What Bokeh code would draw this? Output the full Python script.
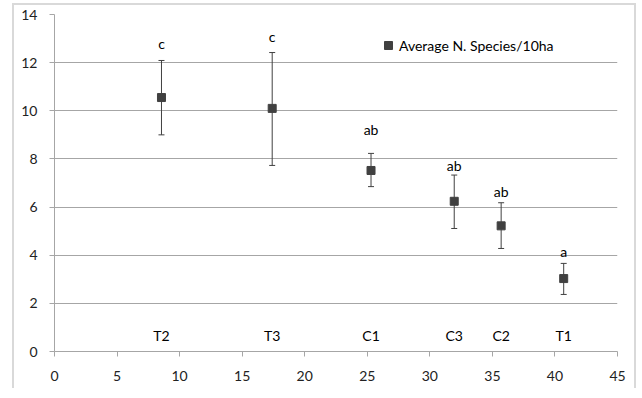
from bokeh.plotting import figure
from bokeh.models import ColumnDataSource, Range1d, FixedTicker, Whisker, Legend, LegendItem
from bokeh.core.properties import value
from bokeh.embed import file_html
from bokeh.resources import INLINE

# Data
sites = ["T2", "T3", "C1", "C3", "C2", "T1"]
x_pos = [8.55, 17.4, 25.3, 31.95, 35.7, 40.7]
avg_species = [10.55, 10.1, 7.52, 6.24, 5.22, 3.03]
err_upper = [12.09, 12.42, 8.23, 7.33, 6.18, 3.66]
err_lower = [9.0, 7.73, 6.85, 5.11, 4.28, 2.37]
letters = ["c", "c", "ab", "ab", "ab", "a"]
letter_y = [12.8, 13.1, 9.24, 7.74, 6.63, 4.15]
site_label_y = [0.67] * 6
x_ticks = [0, 5, 10, 15, 20, 25, 30, 35, 40, 45]
y_ticks = [0, 2, 4, 6, 8, 10, 12, 14]

FONT = "Lato"
TXT = "#000000"
MARK = "#404040"

src = ColumnDataSource(dict(x=x_pos, y=avg_species, upper=err_upper, lower=err_lower,
                            letter=letters, ly=letter_y, site=sites, sy=site_label_y))

p = figure(width=624, height=385, output_backend="svg", toolbar_location=None,
           x_range=Range1d(0, 45), y_range=Range1d(0, 14),
           min_border_left=42, min_border_top=11, min_border_right=19, min_border_bottom=37,
           styles={"margin-left": "12px", "margin-top": "3px",
                   "box-shadow": "inset 2px 0 0 #d9d9d9, inset -2px 0 0 #d9d9d9, inset 0 2px 0 #d9d9d9"})
p.outline_line_color = None
p.background_fill_color = "white"
p.border_fill_color = None

p.xgrid.grid_line_color = None
p.ygrid.grid_line_color = "#a6a6a6"
p.ygrid.grid_line_width = 1

for ax, ticks in ((p.xaxis, x_ticks), (p.yaxis, y_ticks)):
    ax.ticker = FixedTicker(ticks=ticks)
    ax.axis_line_color = "#a6a6a6"
    ax.major_tick_line_color = "#a6a6a6"
    ax.minor_tick_line_color = None
    ax.major_tick_in = 0
    ax.major_tick_out = 5
    ax.major_label_text_font = FONT
    ax.major_label_text_font_size = "14px"
    ax.major_label_text_color = "#222222"
p.xaxis.major_label_standoff = 14
p.yaxis.major_label_standoff = 12

w = Whisker(source=src, base="x", upper="upper", lower="lower", dimension="height",
            line_color=MARK, line_width=1)
w.upper_head.size = 6
w.lower_head.size = 6
w.upper_head.line_color = MARK
w.lower_head.line_color = MARK
p.add_layout(w)

r = p.scatter("x", "y", source=src, marker="square", size=8, fill_color=MARK, line_color=MARK)

p.text("x", "ly", text="letter", source=src, text_font=value(FONT), text_font_size="14px",
       text_align="center", text_baseline="middle", text_color=TXT)
p.text("x", "sy", text="site", source=src, text_font=value(FONT), text_font_size="14px",
       text_align="center", text_baseline="middle", text_color=TXT)

legend = Legend(items=[LegendItem(label="Average N. Species/10ha", renderers=[r])],
                location=(324, 296), border_line_color=None, background_fill_alpha=0,
                padding=4, margin=0, spacing=0, glyph_width=20, glyph_height=20,
                label_standoff=1, label_text_font=FONT, label_text_font_size="14px",
                label_text_color=TXT)
p.add_layout(legend, "center")

open("out.html", "w").write(file_html(p, INLINE))
